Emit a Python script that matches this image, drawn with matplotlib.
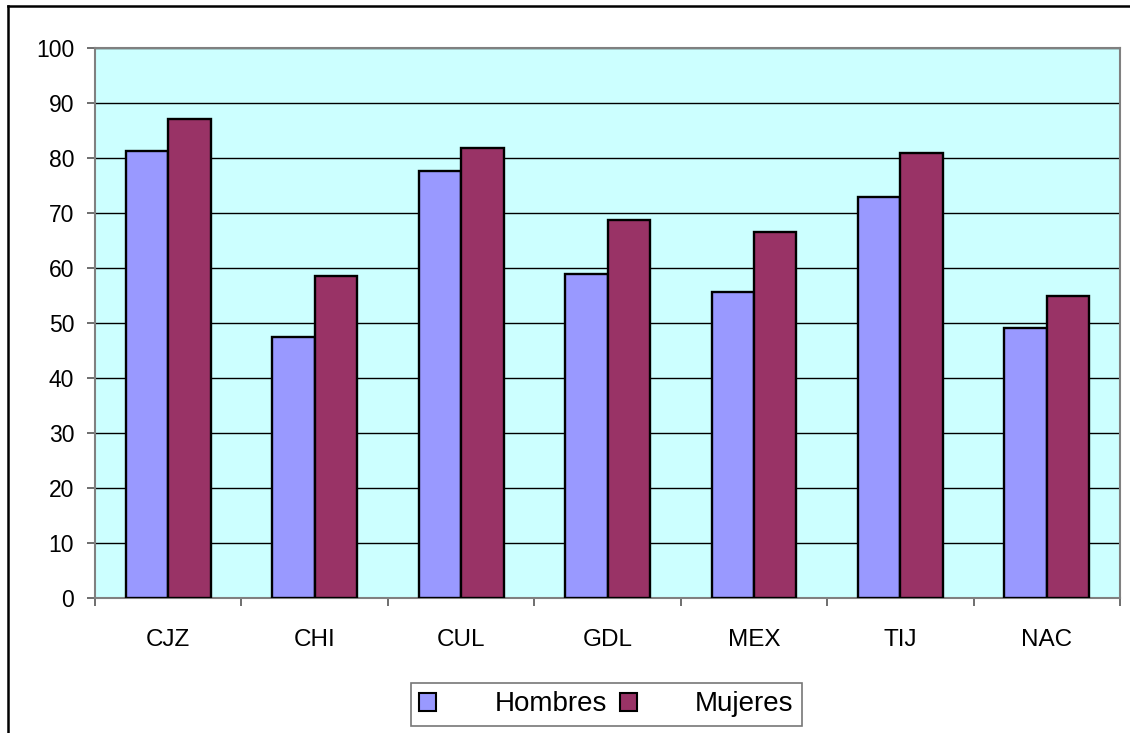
import numpy as np
import matplotlib
matplotlib.use('Agg')
import matplotlib.pyplot as plt
from matplotlib.lines import Line2D

plt.rcParams['font.family'] = ['Liberation Sans', 'DejaVu Sans']

ciudades = ['CJZ', 'CHI', 'CUL', 'GDL', 'MEX', 'TIJ', 'NAC']
hombres = [81.3, 47.4, 77.7, 58.9, 55.6, 73.0, 49.1]
mujeres = [87.1, 58.6, 81.9, 68.7, 66.5, 81.0, 54.9]
series = ['Hombres', 'Mujeres']

fig = plt.figure(figsize=(11.3, 7.33), dpi=100)
ax = fig.add_axes([0.0841, 0.1842, 0.9071, 0.7503])
ax.set_facecolor('#CCFFFF')

x = np.arange(len(ciudades))
w = 0.29
ax.bar(x - w / 2, hombres, w, color='#9999FF', edgecolor='black', linewidth=1.7,
       label=series[0], zorder=3)
ax.bar(x + w / 2, mujeres, w, color='#993366', edgecolor='black', linewidth=1.7,
       label=series[1], zorder=3)

ax.set_xlim(-0.5, len(ciudades) - 0.5)
ax.set_ylim(0, 100)
ax.set_yticks(range(0, 101, 10))
ax.yaxis.grid(True, color='black', linewidth=1.0, zorder=1)
ax.set_axisbelow(True)

# category labels centred, tick marks between the groups
ax.set_xticks(x)
ax.set_xticklabels(ciudades, fontsize=17.5)
ax.set_xticks(np.arange(-0.5, len(ciudades), 1), minor=True)
ax.tick_params(axis='x', which='major', length=0, pad=22)
ax.tick_params(axis='x', which='minor', length=6, width=1.2, color='#555555')
ax.tick_params(axis='y', length=6, width=1.2, color='#555555', labelsize=16.5, pad=9)

for s in ax.spines.values():
    s.set_color('#808080')
    s.set_linewidth(1.5)

leg = fig.legend(loc='center', bbox_to_anchor=(0.5366, 0.0389), ncol=2,
                 fontsize=20, frameon=True, fancybox=False, edgecolor='#555555',
                 handlelength=0.62, handleheight=0.62, handletextpad=2.1,
                 columnspacing=0.45, borderpad=0.3, borderaxespad=0)
leg.get_frame().set_linewidth(1.2)
for h in leg.legend_handles:
    h.set_linewidth(1.5)

# outer frame of the chart area
fx, fy = 8 / 1130, 1 - 6 / 733
fig.add_artist(Line2D([fx, fx], [0, fy], transform=fig.transFigure, color='black', lw=1.8))
fig.add_artist(Line2D([fx, 1], [fy, fy], transform=fig.transFigure, color='black', lw=1.8))

fig.savefig('out.png', dpi=100)
